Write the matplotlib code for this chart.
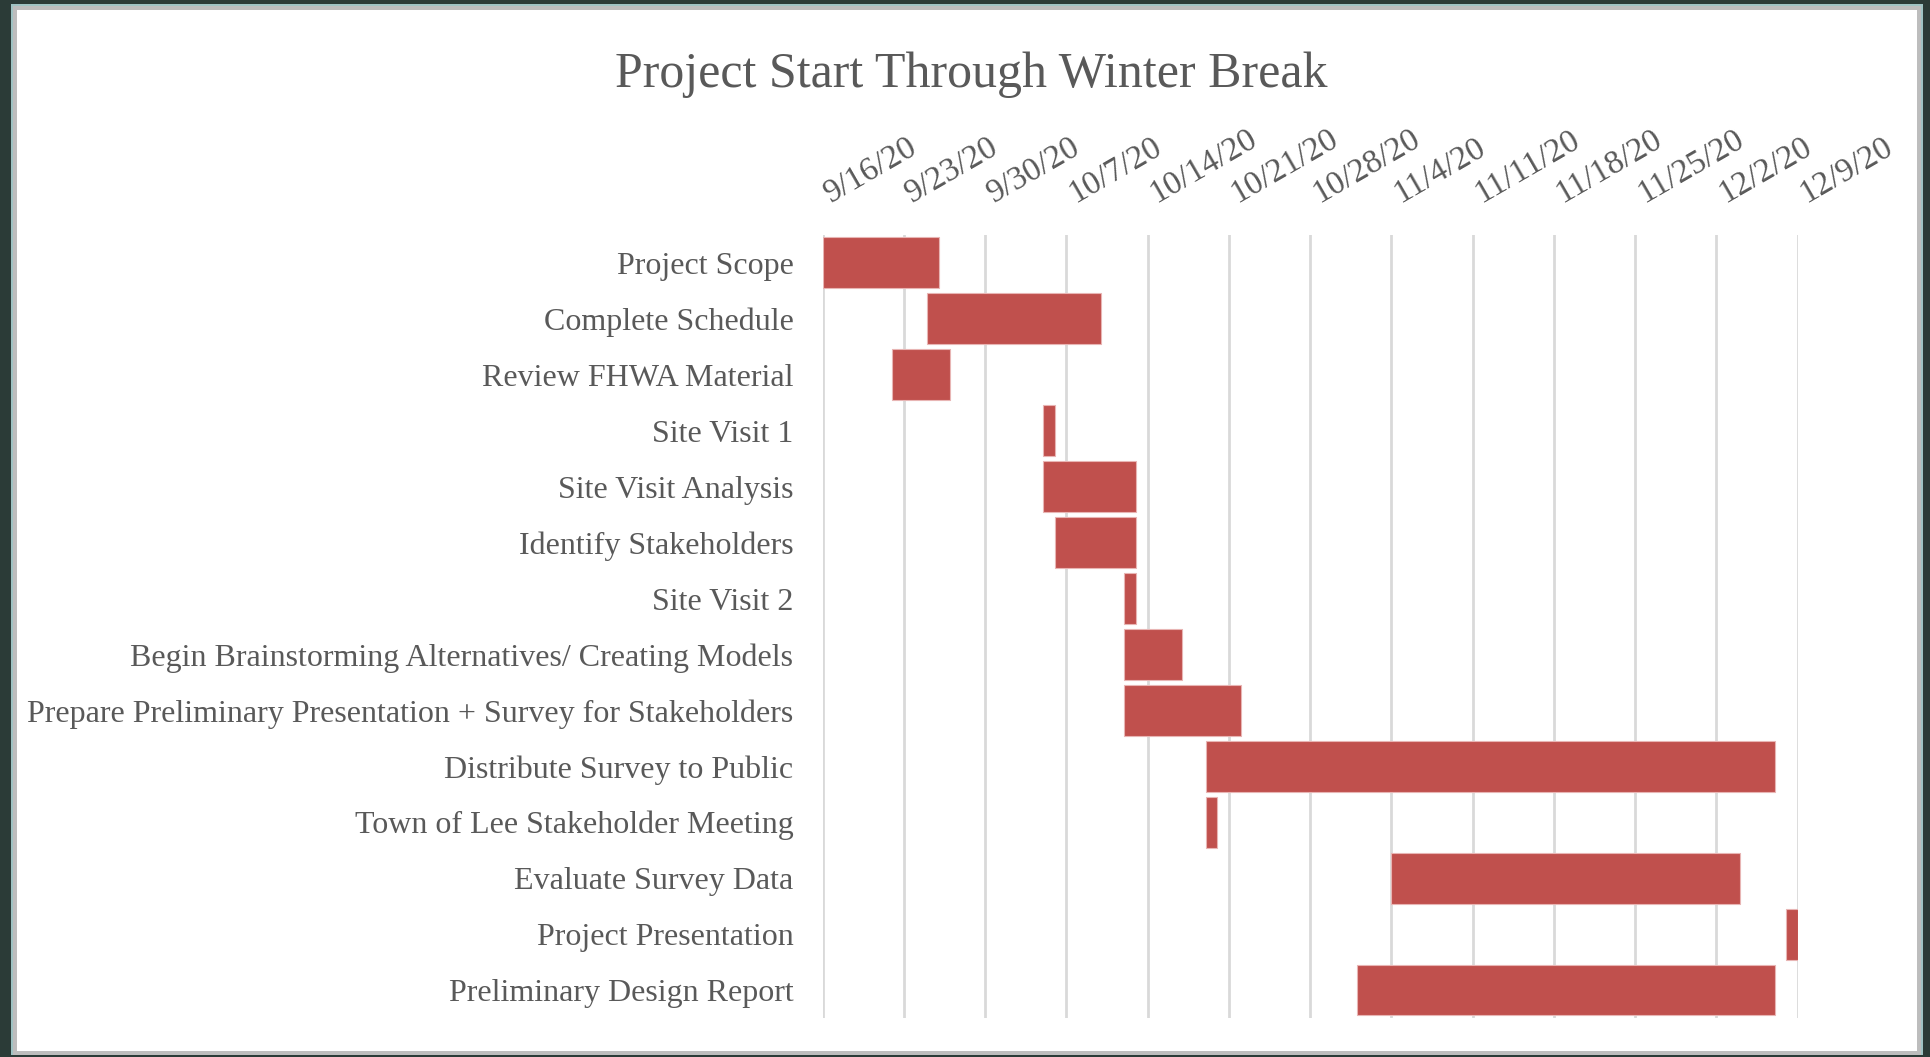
import matplotlib
matplotlib.use("Agg")
import matplotlib.pyplot as plt
import matplotlib.dates as mdates
import matplotlib.transforms as mtransforms
import pandas as pd
from matplotlib.patches import Rectangle

plt.rcParams['font.family'] = ['Liberation Serif', 'DejaVu Serif']

tasks = [
    "Project Scope",
    "Complete Schedule",
    "Review FHWA Material",
    "Site Visit 1",
    "Site Visit Analysis",
    "Identify Stakeholders",
    "Site Visit 2",
    "Begin Brainstorming Alternatives/ Creating Models",
    "Prepare Preliminary Presentation + Survey for Stakeholders",
    "Distribute Survey to Public",
    "Town of Lee Stakeholder Meeting",
    "Evaluate Survey Data",
    "Project Presentation",
    "Preliminary Design Report",
]
starts = ["2020-09-16", "2020-09-25", "2020-09-22", "2020-10-05", "2020-10-05",
          "2020-10-06", "2020-10-12", "2020-10-12", "2020-10-12", "2020-10-19",
          "2020-10-19", "2020-11-04", "2020-12-08", "2020-11-01"]
durations = [10, 15, 5, 1, 8, 7, 1, 5, 10, 49, 1, 30, 1, 36]

tick_dates = pd.date_range("2020-09-16", "2020-12-09", freq="7D")

TXT = "#595959"
BAR = "#C0504D"

fig = plt.figure(figsize=(19.31, 10.57), dpi=100)
fig.patch.set_facecolor("#2B3B37")

# white chart panel with a soft edge
fig.add_artist(Rectangle((11 / 1931, 2 / 1057), 1912 / 1931, 1051 / 1057,
                         transform=fig.transFigure, facecolor="#9FC3C3",
                         edgecolor="none", zorder=0))
fig.add_artist(Rectangle((13 / 1931, 2 / 1057), 1908 / 1931, 1049 / 1057,
                         transform=fig.transFigure, facecolor="#BDBDBD",
                         edgecolor="none", zorder=0))
fig.add_artist(Rectangle((17 / 1931, 6 / 1057), 1900 / 1931, 1041 / 1057,
                         transform=fig.transFigure, facecolor="white",
                         edgecolor="none", zorder=0))

ax = fig.add_axes([0.426, 0.0369, 0.505, 0.7408])
ax.set_facecolor("none")

start_num = mdates.date2num(pd.to_datetime(starts))
y = range(len(tasks))
ax.barh(y, durations, left=start_num, height=0.91, color=BAR,
        edgecolor="#E8B5B4", linewidth=0.8, zorder=3)

ax.set_ylim(len(tasks) - 0.5, -0.5)
ax.set_yticks(list(y))
ax.set_yticklabels(tasks, fontsize=23, color=TXT)
ax.tick_params(axis="y", length=0, pad=21)

ax.set_xlim(mdates.date2num(tick_dates[0]), mdates.date2num(tick_dates[-1]))
ax.xaxis.tick_top()
ax.set_xticks(mdates.date2num(tick_dates))
ax.set_xticklabels([f"{d.month}/{d.day}/{d.year % 100}" for d in tick_dates],
                   fontsize=24, color=TXT, rotation=30, ha="left",
                   va="bottom", rotation_mode="anchor")
ax.tick_params(axis="x", length=0, pad=19)
shift = mtransforms.ScaledTranslation(12 / 100, 0, fig.dpi_scale_trans)
for lab in ax.get_xticklabels():
    lab.set_transform(lab.get_transform() + shift)
ax.grid(axis="x", color="#D9D9D9", linewidth=2, zorder=0)
for s in ax.spines.values():
    s.set_visible(False)

fig.text(0.503, 0.929, "Project Start Through Winter Break", fontsize=36,
         color=TXT, ha="center", va="center")

fig.savefig("out.png", dpi=100, facecolor=fig.get_facecolor())
